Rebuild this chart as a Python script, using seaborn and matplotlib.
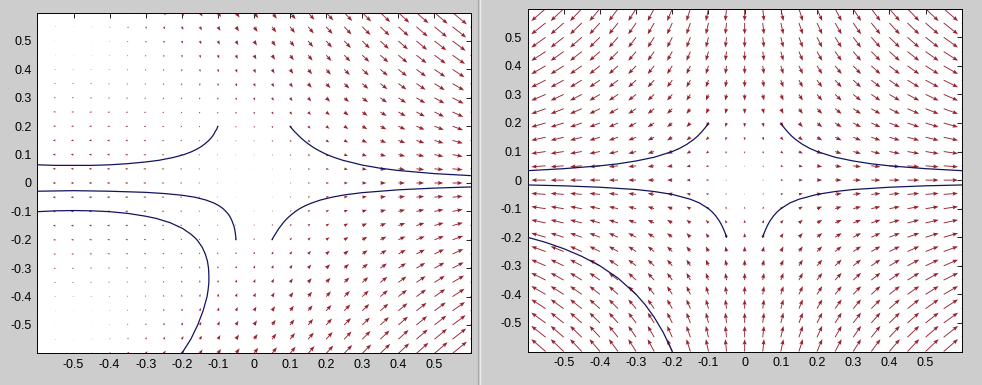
import numpy as np
import pandas as pd
import seaborn as sns
import matplotlib.pyplot as plt

# ----------------------------------------------------------------------------
# data
# ----------------------------------------------------------------------------
# arrow tails sit on a 25 x 25 grid
grid = np.linspace(-0.6, 0.6, 25)

# left: nonlinear system  x' = x + x^2 + y^2 ,  y' = -y - 2xy
# right: its linearisation at the origin  x' = x ,  y' = -y
nl_coef_x = [1.0, 1.0, 1.0]     # x, x^2, y^2
nl_coef_y = [-1.0, -2.0]        # y, xy
lin_coef = [1.0, -1.0]          # x, y

# trajectories, left panel
nl_c1_x = [-0.6, -0.55, -0.5, -0.45, -0.4, -0.35, -0.3, -0.263, -0.223, -0.194, -0.173,
           -0.157, -0.144, -0.134, -0.125, -0.118, -0.112, -0.108, -0.103, -0.1]
nl_c1_y = [0.064, 0.062, 0.062, 0.062, 0.064, 0.068, 0.074, 0.08, 0.09, 0.1, 0.11,
           0.12, 0.13, 0.14, 0.15, 0.16, 0.17, 0.18, 0.19, 0.2]
nl_c2_x = [0.1, 0.106, 0.113, 0.121, 0.129, 0.138, 0.148, 0.159, 0.171, 0.186,
           0.202, 0.222, 0.246, 0.3, 0.35, 0.4, 0.5, 0.6]
nl_c2_y = [0.2, 0.19, 0.18, 0.17, 0.16, 0.15, 0.14, 0.13, 0.12, 0.11,
           0.1, 0.09, 0.08, 0.063, 0.052, 0.044, 0.033, 0.026]
nl_c3_x = [-0.6, -0.5, -0.4, -0.3, -0.25, -0.2, -0.164, -0.133, -0.112, -0.097, -0.086,
           -0.078, -0.071, -0.066, -0.062, -0.059, -0.056, -0.054, -0.0526, -0.0514, -0.0505, -0.05]
nl_c3_y = [-0.029, -0.027, -0.029, -0.033, -0.037, -0.043, -0.05, -0.06, -0.07, -0.08, -0.09,
           -0.1, -0.11, -0.12, -0.13, -0.14, -0.15, -0.16, -0.17, -0.18, -0.19, -0.2]
nl_c4_x = [0.05, 0.054, 0.059, 0.064, 0.069, 0.075, 0.081, 0.088, 0.096, 0.105, 0.115,
           0.127, 0.142, 0.161, 0.184, 0.216, 0.25, 0.3, 0.4, 0.5, 0.6]
nl_c4_y = [-0.2, -0.19, -0.18, -0.17, -0.16, -0.15, -0.14, -0.13, -0.12, -0.11, -0.1,
           -0.09, -0.08, -0.07, -0.06, -0.05, -0.042, -0.034, -0.024, -0.018, -0.014]
nl_c5_x = [-0.6, -0.55, -0.5, -0.45, -0.4, -0.35, -0.3, -0.27, -0.232, -0.198, -0.175,
           -0.166, -0.158, -0.144, -0.135, -0.129, -0.126, -0.125, -0.125, -0.127, -0.13,
           -0.141, -0.156, -0.175, -0.2]
nl_c5_y = [-0.101, -0.098, -0.097, -0.098, -0.101, -0.107, -0.117, -0.125, -0.14, -0.16, -0.18,
           -0.19, -0.2, -0.225, -0.25, -0.275, -0.3, -0.325, -0.35, -0.375, -0.4,
           -0.45, -0.5, -0.55, -0.6]

# trajectories, right panel
lin_c1_x = [-0.6, -0.5, -0.4, -0.35, -0.3, -0.25, -0.2, -0.18, -0.16, -0.14, -0.13,
            -0.12, -0.11, -0.105, -0.1]
lin_c1_y = [0.033, 0.04, 0.05, 0.057, 0.067, 0.08, 0.1, 0.111, 0.125, 0.143, 0.154,
            0.167, 0.182, 0.19, 0.2]
lin_c2_x = [0.1, 0.105, 0.11, 0.12, 0.13, 0.14, 0.16, 0.18, 0.2, 0.25, 0.3, 0.35, 0.4, 0.5, 0.6]
lin_c2_y = [0.2, 0.19, 0.182, 0.167, 0.154, 0.143, 0.125, 0.111, 0.1, 0.08, 0.067, 0.057,
            0.05, 0.04, 0.033]
lin_c3_x = [-0.6, -0.5, -0.4, -0.3, -0.25, -0.2, -0.15, -0.125, -0.1, -0.09, -0.08, -0.07,
            -0.065, -0.06, -0.055, -0.0525, -0.05]
lin_c3_y = [-0.017, -0.02, -0.025, -0.033, -0.04, -0.05, -0.067, -0.08, -0.1, -0.111, -0.125,
            -0.143, -0.154, -0.167, -0.182, -0.19, -0.2]
lin_c4_x = [0.05, 0.0525, 0.055, 0.06, 0.065, 0.07, 0.08, 0.09, 0.1, 0.125, 0.15, 0.2, 0.25,
            0.3, 0.4, 0.5, 0.6]
lin_c4_y = [-0.2, -0.19, -0.182, -0.167, -0.154, -0.143, -0.125, -0.111, -0.1, -0.08, -0.067,
            -0.05, -0.04, -0.033, -0.025, -0.02, -0.017]
lin_c5_x = [-0.6, -0.55, -0.5, -0.45, -0.4, -0.35, -0.3, -0.275, -0.25, -0.225, -0.2]
lin_c5_y = [-0.2, -0.218, -0.24, -0.267, -0.3, -0.343, -0.4, -0.436, -0.48, -0.533, -0.6]

tick_vals = [-0.5, -0.4, -0.3, -0.2, -0.1, 0, 0.1, 0.2, 0.3, 0.4, 0.5]
tick_labels = ['-0.5', '-0.4', '-0.3', '-0.2', '-0.1', '0', '0.1', '0.2', '0.3', '0.4', '0.5']

# ----------------------------------------------------------------------------
# style
# ----------------------------------------------------------------------------
sns.set_style('white')
plt.rcParams['font.family'] = ['Liberation Sans', 'DejaVu Sans']

ARROW = '#962430'
CURVE = '#14145e'
BG = '#cdcdcd'

fig = plt.figure(figsize=(9.82, 3.85), dpi=100, facecolor=BG)
ax_l = fig.add_axes([0.0381, 0.0821, 0.4411, 0.8852])
ax_r = fig.add_axes([0.5372, 0.0870, 0.4422, 0.8904])

# border between the two windows
fig.add_artist(plt.Line2D([0.4865, 0.4865], [0, 1], transform=fig.transFigure,
                          color='#a9a9a9', linewidth=1.0))
fig.add_artist(plt.Line2D([0.4885, 0.4885], [0, 1], transform=fig.transFigure,
                          color='#ececec', linewidth=1.0))

X, Y = np.meshgrid(grid, grid)
U_nl = nl_coef_x[0] * X + nl_coef_x[1] * X**2 + nl_coef_x[2] * Y**2
V_nl = nl_coef_y[0] * Y + nl_coef_y[1] * X * Y
U_lin = lin_coef[0] * X
V_lin = lin_coef[1] * Y

curves_l = [(nl_c1_x, nl_c1_y), (nl_c2_x, nl_c2_y), (nl_c3_x, nl_c3_y),
            (nl_c4_x, nl_c4_y), (nl_c5_x, nl_c5_y)]
curves_r = [(lin_c1_x, lin_c1_y), (lin_c2_x, lin_c2_y), (lin_c3_x, lin_c3_y),
            (lin_c4_x, lin_c4_y), (lin_c5_x, lin_c5_y)]


def draw_panel(ax, U, V, curves):
    # matlab style autoscale: longest arrow = 0.9 of a grid cell diagonal
    cell = np.sqrt(2) * (grid.max() - grid.min()) / len(grid)
    s = 0.9 * cell / np.sqrt(U**2 + V**2).max()
    ax.quiver(X, Y, U, V, angles='xy', scale_units='xy', scale=1 / s,
              color=ARROW, width=0.0021, headwidth=4.5, headlength=6,
              headaxislength=5.2, minlength=0.3, zorder=2)

    for cx, cy in curves:
        df = pd.DataFrame({'x': cx, 'y': cy})
        sns.lineplot(data=df, x='x', y='y', ax=ax, sort=False, estimator=None,
                     color=CURVE, linewidth=0.9, zorder=3)

    ax.set_xlim(-0.6, 0.6)
    ax.set_ylim(-0.6, 0.6)
    ax.set_xticks(tick_vals)
    ax.set_xticklabels(tick_labels)
    ax.set_yticks(tick_vals)
    ax.set_yticklabels(tick_labels)
    ax.set_xlabel('')
    ax.set_ylabel('')
    ax.set_facecolor('white')
    ax.tick_params(direction='in', length=3.5, width=0.6, top=True, right=True,
                   labelsize=9, colors='black', pad=4)
    for sp in ax.spines.values():
        sp.set_visible(True)
        sp.set_color('black')
        sp.set_linewidth(0.7)


draw_panel(ax_l, U_nl, V_nl, curves_l)
draw_panel(ax_r, U_lin, V_lin, curves_r)

fig.savefig('out.png', dpi=100, facecolor=BG)
